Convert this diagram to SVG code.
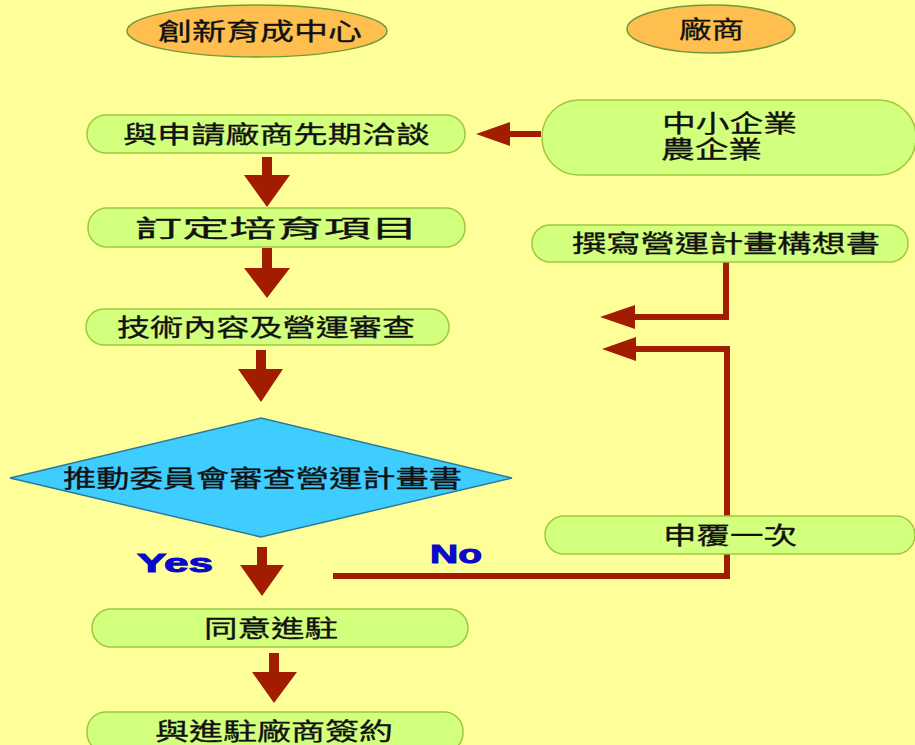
<svg xmlns="http://www.w3.org/2000/svg" width="915" height="745" viewBox="0 0 915 745">
<defs>
<style>
.pill{fill:#D2FF7C;stroke:#9CC840;stroke-width:1.5}
.head{fill:#FFBF4F;stroke:#6E9A3A;stroke-width:1.5}
.t{font-family:"Liberation Sans","Noto Sans CJK TC",sans-serif;font-size:24px;fill:#111;stroke:#111;stroke-width:0.3;dominant-baseline:central}
.yn{font-family:"Liberation Sans",sans-serif;font-weight:bold;font-size:26px;fill:#0A0AC8;stroke:#0A0AC8;stroke-width:1}
.ln{fill:none;stroke:#A21C00;stroke-width:6}
.ah{fill:#A21C00}
</style>
</defs>
<rect width="915" height="745" fill="#FFFF99"/>
<ellipse cx="960" cy="-30" rx="60" ry="34" fill="#A8C060"/>

<g id="connectors">
<polygon class="ah" points="262,157 272,157 272,175 290,175 267,207 244,175 262,175"/>
<polygon class="ah" points="262,248 272,248 272,268 290,268 267,298 244,268 262,268"/>
<polygon class="ah" points="256,350 266,350 266,369 283,369 261,402 238,369 256,369"/>
<polygon class="ah" points="257,547 267,547 267,565 284,565 262,596 240,565 257,565"/>
<polygon class="ah" points="269,653 279,653 279,672 297,672 274,703 252,672 269,672"/>
<line class="ln" x1="541" y1="134" x2="505" y2="134"/>
<polygon class="ah" points="476,134 510,122 510,146"/>
<polyline class="ln" points="726,262 726,317 630,317"/>
<polygon class="ah" points="600,317 635,305 635,329"/>
<polyline class="ln" points="333,576 727,576 727,349 630,349"/>
<polygon class="ah" points="602,349 636,337 636,361"/>
</g>

<g id="hdr-center">
<ellipse class="head" cx="257" cy="31" rx="130" ry="26"/>
<text class="t" x="158" y="31" textLength="204" lengthAdjust="spacingAndGlyphs">創新育成中心</text>
</g>
<g id="hdr-vendor">
<ellipse class="head" cx="711" cy="29" rx="84" ry="24"/>
<text class="t" x="679" y="29" textLength="65" lengthAdjust="spacingAndGlyphs">廠商</text>
</g>

<g id="n1">
<rect class="pill" x="87" y="115" width="378" height="38" rx="19"/>
<text class="t" x="123" y="134" textLength="307" lengthAdjust="spacingAndGlyphs">與申請廠商先期洽談</text>
</g>
<g id="n-sme">
<rect class="pill" x="542" y="100" width="374" height="75" rx="37"/>
<text class="t" x="662" y="123" textLength="135" lengthAdjust="spacingAndGlyphs">中小企業</text>
<text class="t" x="661" y="149" textLength="101" lengthAdjust="spacingAndGlyphs">農企業</text>
</g>
<g id="n2">
<rect class="pill" x="88" y="208" width="377" height="39" rx="19"/>
<text class="t" x="135" y="228" textLength="283" lengthAdjust="spacingAndGlyphs">訂定培育項目</text>
</g>
<g id="n-plan">
<rect class="pill" x="532" y="225" width="376" height="37" rx="18"/>
<text class="t" x="572" y="243" textLength="308" lengthAdjust="spacingAndGlyphs">撰寫營運計畫構想書</text>
</g>
<g id="n3">
<rect class="pill" x="86" y="309" width="363" height="36" rx="18"/>
<text class="t" x="117" y="327" textLength="298" lengthAdjust="spacingAndGlyphs">技術內容及營運審查</text>
</g>
<g id="n-decision">
<polygon points="10,478 261,418 512,478 261,537" fill="#3FCDFF" stroke="#2A7A9A" stroke-width="1.5"/>
<text class="t" x="63" y="478" textLength="399" lengthAdjust="spacingAndGlyphs">推動委員會審查營運計畫書</text>
</g>
<g id="n-appeal">
<rect class="pill" x="545" y="516" width="370" height="38" rx="19"/>
<text class="t" x="663" y="535" textLength="134" lengthAdjust="spacingAndGlyphs">申覆一次</text>
</g>
<g id="n4">
<rect class="pill" x="92" y="609" width="376" height="38" rx="19"/>
<text class="t" x="204" y="628" textLength="134" lengthAdjust="spacingAndGlyphs">同意進駐</text>
</g>
<g id="n5">
<rect class="pill" x="87" y="712" width="376" height="40" rx="19"/>
<text class="t" x="155" y="731" textLength="238" lengthAdjust="spacingAndGlyphs">與進駐廠商簽約</text>
</g>

<text class="yn" x="137" y="572" textLength="76" lengthAdjust="spacingAndGlyphs">Yes</text>
<text class="yn" x="430" y="563" textLength="52" lengthAdjust="spacingAndGlyphs">No</text>
</svg>
